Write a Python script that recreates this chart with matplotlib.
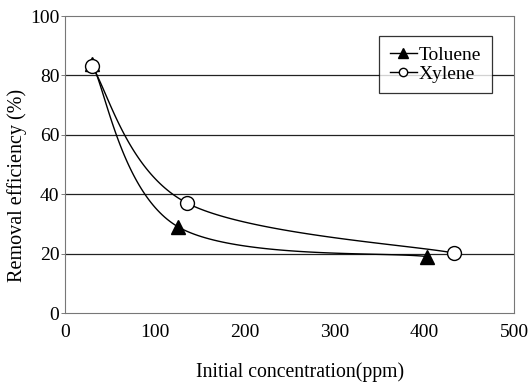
import numpy as np
import matplotlib
matplotlib.use("Agg")
import matplotlib.pyplot as plt

toluene_x = [30, 126, 403]
toluene_y = [84, 29, 19]
xylene_x = [30, 136, 433]
xylene_y = [83, 37, 20.2]
x_ticks = [0, 100, 200, 300, 400, 500]
y_ticks = [0, 20, 40, 60, 80, 100]

plt.rcParams['font.family'] = ['Liberation Serif', 'DejaVu Serif']


def excel_smooth(xs, ys, n=60):
    P = np.column_stack([xs, ys]).astype(float)
    m = len(P)
    out = []
    for i in range(m - 1):
        p_prev = P[i - 1] if i > 0 else P[i]
        p_next2 = P[i + 2] if i + 2 < m else P[i + 1]
        c1 = P[i] + (P[i + 1] - p_prev) / 6.0
        c2 = P[i + 1] - (p_next2 - P[i]) / 6.0
        t = np.linspace(0, 1, n)[:, None]
        b = ((1 - t) ** 3) * P[i] + 3 * ((1 - t) ** 2) * t * c1 + 3 * (1 - t) * t ** 2 * c2 + t ** 3 * P[i + 1]
        out.append(b if i == 0 else b[1:])
    out = np.vstack(out)
    return out[:, 0], out[:, 1]


W, H = 528, 388
fig = plt.figure(figsize=(W / 100, H / 100), dpi=100)
ax = fig.add_axes([65 / W, 1 - 313 / H, (514 - 65) / W, (313 - 16) / H])

for yv in y_ticks[1:-1]:
    ax.axhline(yv, color='#222222', lw=0.9, zorder=1)

tx, ty = excel_smooth(toluene_x, toluene_y)
xx, xy = excel_smooth(xylene_x, xylene_y)
ax.plot(tx, ty, color='black', lw=1.0, zorder=2)
ax.plot(xx, xy, color='black', lw=1.0, zorder=2)
ax.plot(toluene_x, toluene_y, ls='none', marker='^', ms=10, color='black', zorder=3)
ax.plot(xylene_x, xylene_y, ls='none', marker='o', ms=10, mfc='white', mec='black', mew=1.0, zorder=3)

# legend handles
ax.plot([], [], color='black', lw=1.0, marker='^', ms=7, label='Toluene')
ax.plot([], [], color='black', lw=1.0, marker='o', ms=6, mfc='white', mec='black', label='Xylene')
h, l = ax.get_legend_handles_labels()
leg = ax.legend(h[-2:], l[-2:], loc='upper right', bbox_to_anchor=(0.951, 0.933),
                fontsize=14, frameon=True, fancybox=False, handlelength=1.4,
                handletextpad=0.1, borderpad=0.55, labelspacing=0.05, borderaxespad=0)
leg.get_frame().set_edgecolor('black')
leg.get_frame().set_linewidth(0.9)
leg.set_zorder(5)

ax.set_xlim(0, 500)
ax.set_ylim(0, 100)
ax.set_xticks(x_ticks)
ax.set_yticks(y_ticks)
ax.tick_params(axis='both', labelsize=14, length=3, width=0.6, color='#666666', direction='out', pad=1)
ax.tick_params(axis='x', length=0, pad=8)
for s in ax.spines.values():
    s.set_linestyle((0, (1, 1)))
    s.set_color('#777777')
    s.set_linewidth(0.8)

fig.text(17 / W, 1 - 185 / H, 'Removal efficiency (%)', fontsize=14.5, rotation=90,
         ha='center', va='center')
fig.text(300 / W, 1 - 372 / H, 'Initial concentration(ppm)', fontsize=14.2,
         ha='center', va='center')

fig.savefig('out.png', dpi=100)
